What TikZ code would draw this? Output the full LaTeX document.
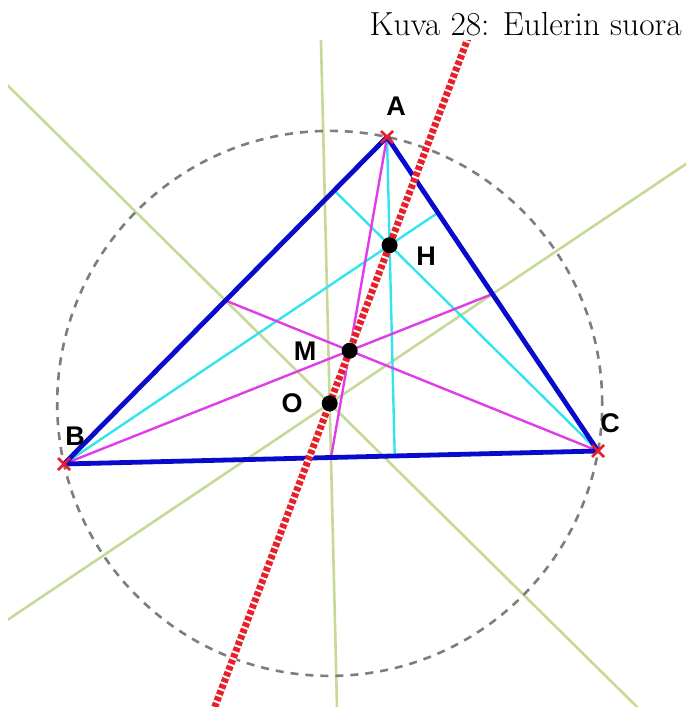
\documentclass[tikz,border=0pt]{standalone}
\usepackage{fontspec}
\newfontfamily\labelfont{Liberation Sans}
\usetikzlibrary{calc}
\definecolor{triblue}{RGB}{10,10,205}
\definecolor{altcyan}{RGB}{50,228,240}
\definecolor{medmag}{RGB}{225,60,235}
\definecolor{bisgreen}{RGB}{196,218,150}
\definecolor{circgray}{RGB}{125,125,125}
\definecolor{eulred}{RGB}{232,30,40}
\tikzset{
  side/.style={triblue, line width=4.8pt, line cap=round, line join=round},
  altitude/.style={altcyan, line width=2.4pt},
  median/.style={medmag, line width=2.4pt},
  bisector/.style={bisgreen, line width=2.6pt},
  circum/.style={circgray, line width=2.6pt, dash pattern=on 8pt off 7pt},
  euler/.style={eulred, line width=7pt},
  eulerstripe/.style={white, line width=7.2pt, dash pattern=on 2pt off 4.6pt},
  pointdot/.style={circle, fill=black, inner sep=0pt, minimum size=16pt},
  ptlabel/.style={font=\labelfont\bfseries\fontsize{27}{32}\selectfont, inner sep=0pt},
  vmark/.style={eulred, line width=2.8pt}
}
\begin{document}
\begin{tikzpicture}[x=1pt,y=-1pt]
\useasboundingbox (0,0) rectangle (686,707);
\coordinate (A) at (387,137);
\coordinate (B) at (64,464);
\coordinate (C) at (598,451);
\coordinate (O) at (329.7,403.4);
\coordinate (H) at (389.6,245.2);
\coordinate (M) at (349.67,350.67);
\coordinate (mBC) at ($(B)!0.5!(C)$);
\coordinate (mAB) at ($(A)!0.5!(B)$);
\coordinate (mAC) at ($(A)!0.5!(C)$);
\coordinate (fA) at ($(B)!(A)!(C)$);
\coordinate (fB) at ($(A)!(B)!(C)$);
\coordinate (fC) at ($(A)!(C)!(B)$);
\coordinate (bc1) at ($(O)!1000pt!(mBC)$);
\coordinate (bc2) at ($(O)!-1000pt!(mBC)$);
\coordinate (ab1) at ($(O)!1000pt!(mAB)$);
\coordinate (ab2) at ($(O)!-1000pt!(mAB)$);
\coordinate (ac1) at ($(O)!1000pt!(mAC)$);
\coordinate (ac2) at ($(O)!-1000pt!(mAC)$);
\coordinate (e1) at ($(O)!2.45!(H)$);
\coordinate (e2) at ($(O)!-2.1!(H)$);

\node[anchor=base east, inner sep=0pt, font=\fontsize{33.4}{40}\selectfont] (title) at (682,35) {Kuva 28: Eulerin suora};

\begin{scope}
\clip (8,40) rectangle (686,707);
\draw[bisector] (bc1) -- (bc2);
\draw[bisector] (ab1) -- (ab2);
\draw[bisector] (ac1) -- (ac2);
\draw[circum] (O) circle[radius=272.5pt];
\draw[altitude] (A) -- (fA);
\draw[altitude] (B) -- (fB);
\draw[altitude] (C) -- (fC);
\draw[median] (A) -- (mBC);
\draw[median] (B) -- (mAC);
\draw[median] (C) -- (mAB);
\draw[side] (A) -- (B) -- (C) -- cycle;
\draw[euler] (e1) -- (e2);
\draw[eulerstripe] (e1) -- (e2);
\end{scope}

\node[pointdot] (Hd) at (H) {};
\node[pointdot] (Md) at (M) {};
\node[pointdot] (Od) at (O) {};
\foreach \p in {A,B,C}{
  \draw[vmark] ($(\p)+(-6,-6)$) -- ($(\p)+(6,6)$);
  \draw[vmark] ($(\p)+(-6,6)$) -- ($(\p)+(6,-6)$);
}
\node[ptlabel] (lA) at (396,106) {A};
\node[ptlabel] (lB) at (75,436) {B};
\node[ptlabel] (lC) at (610,423) {C};
\node[ptlabel] (lH) at (426,256) {H};
\node[ptlabel] (lM) at (305,351) {M};
\node[ptlabel] (lO) at (292,403) {O};
\end{tikzpicture}
\end{document}
